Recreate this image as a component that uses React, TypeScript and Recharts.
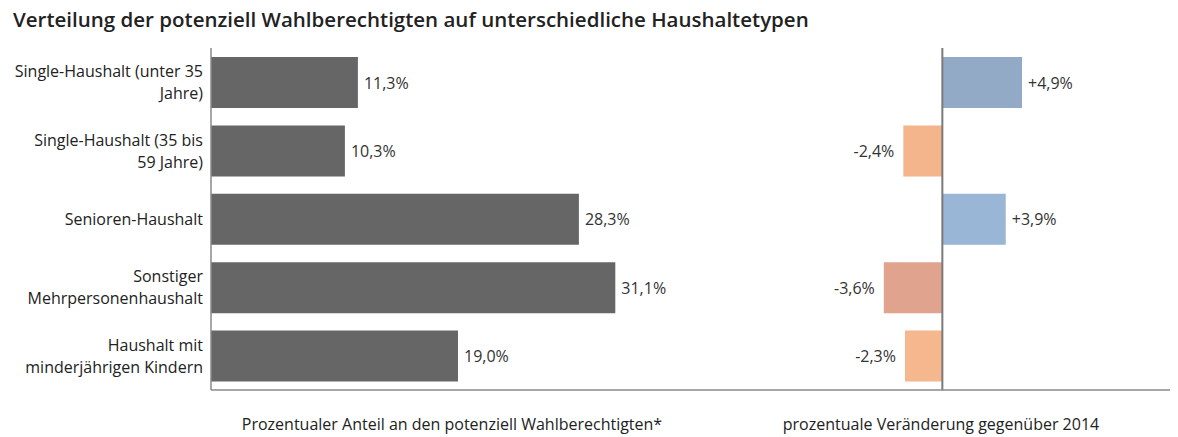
import { BarChart, Bar, XAxis, YAxis, Cell, LabelList, ReferenceLine } from 'recharts';

const categories = [
    ['Single-Haushalt (unter 35', 'Jahre)'],
    ['Single-Haushalt (35 bis', '59 Jahre)'],
    ['Senioren-Haushalt'],
    ['Sonstiger', 'Mehrpersonenhaushalt'],
    ['Haushalt mit', 'minderjährigen Kindern'],
];
const shareValues = [11.3, 10.3, 28.3, 31.1, 19.0];
const changeValues = [4.9, -2.4, 3.9, -3.6, -2.3];
const changeColors = ['#93aac6', '#f4b48c', '#9ab6d6', '#e0a48e', '#f5b88e'];

const data = categories.map((lines, i) => ({
    name: lines.join(' '),
    share: shareValues[i],
    change: changeValues[i],
}));

const FONT = '"Open Sans", "Noto Sans", sans-serif';
const fmt = (v: number, sign: boolean) =>
    (sign && v > 0 ? '+' : '') + v.toFixed(1).replace('.', ',') + '%';

function CategoryTick(props: any) {
    const { x, y, index } = props;
    const lines = categories[index] ?? [];
    const start = y - ((lines.length - 1) * 22) / 2;
    return (
        <text x={x} y={start} textAnchor="end" fill="#222" fontSize={16} fontFamily={FONT} dominantBaseline="central">
            {lines.map((l, i) => (
                <tspan key={i} x={x} y={start + i * 22}>
                    {l}
                </tspan>
            ))}
        </text>
    );
}

function valueLabel(sign: boolean) {
    return (props: any) => {
        const { x, y, width, height, value } = props;
        const left = Math.min(x, x + width);
        const right = Math.max(x, x + width);
        const neg = value < 0;
        return (
            <text
                x={neg ? left - 9 : right + 6}
                y={y + height / 2}
                textAnchor={neg ? 'end' : 'start'}
                dominantBaseline="central"
                fill="#333"
                fontSize={16}
                fontFamily={FONT}
            >
                {fmt(value, sign)}
            </text>
        );
    };
}

export default function App() {
    return (
        <div style={{ position: 'absolute', left: 0, top: 0, width: 1178, height: 437, background: '#fff', fontFamily: FONT }}>
            <div style={{ position: 'absolute', left: 13, top: 5, fontSize: 20.5, fontWeight: 600, color: '#222', whiteSpace: 'nowrap' }}>
                Verteilung der potenziell Wahlberechtigten auf unterschiedliche Haushaltetypen
            </div>

            <div style={{ position: 'absolute', left: 0, top: 0 }}>
                <BarChart layout="vertical" width={796} height={437} data={data} margin={{ top: 48, right: 0, bottom: 46, left: 0 }} barSize={51}>
                    <XAxis type="number" domain={[0, 45]} tick={false} height={1} axisLine={{ stroke: '#8a8a8a', strokeWidth: 1.5 }} tickLine={false} />
                    <YAxis type="category" dataKey="name" width={211} tick={<CategoryTick />} tickLine={false} axisLine={{ stroke: '#8a8a8a', strokeWidth: 1.5 }} />
                    <Bar dataKey="share" fill="#666666" isAnimationActive={false}>
                        <LabelList dataKey="share" content={valueLabel(false)} />
                    </Bar>
                </BarChart>
            </div>

            <div style={{ position: 'absolute', left: 796, top: 0 }}>
                <BarChart layout="vertical" width={374} height={437} data={data} margin={{ top: 48, right: 0, bottom: 46, left: 0 }} barSize={51}>
                    <XAxis type="number" domain={[-9, 14]} tick={false} height={1} axisLine={{ stroke: '#8a8a8a', strokeWidth: 1.5 }} tickLine={false} />
                    <YAxis type="category" dataKey="name" hide />
                    <ReferenceLine x={0} stroke="#7a7a7a" strokeWidth={2} />
                    <Bar dataKey="change" isAnimationActive={false}>
                        {data.map((_, i) => (
                            <Cell key={i} fill={changeColors[i]} />
                        ))}
                        <LabelList dataKey="change" content={valueLabel(true)} />
                    </Bar>
                </BarChart>
            </div>

            <div style={{ position: 'absolute', left: 452, top: 424, transform: 'translate(-50%, -50%)', fontSize: 16, color: '#222', whiteSpace: 'nowrap' }}>
                Prozentualer Anteil an den potenziell Wahlberechtigten*
            </div>
            <div style={{ position: 'absolute', left: 941, top: 424, transform: 'translate(-50%, -50%)', fontSize: 16, color: '#222', whiteSpace: 'nowrap' }}>
                prozentuale Veränderung gegenüber 2014
            </div>
        </div>
    );
}
